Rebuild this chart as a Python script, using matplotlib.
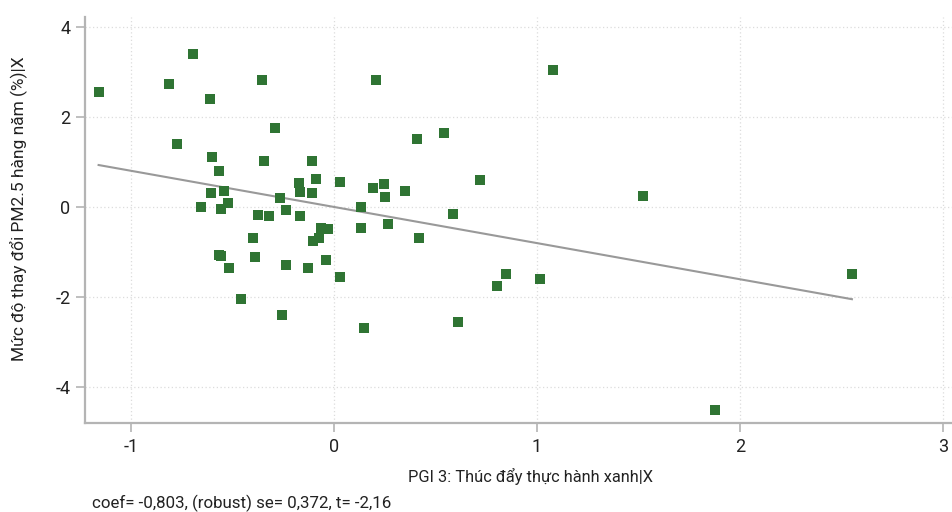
"""
Partial regression plot: PGI 3 vs. thay đổi PM2.5 hàng năm
"""
import matplotlib

matplotlib.use("Agg")
import matplotlib.pyplot as plt

plt.rcParams["font.family"] = ["Roboto", "DejaVu Sans"]

# ── dữ liệu ──
x_vals = [
    -1.160, -0.695, -0.813, -0.611, -0.355, 0.207, -0.291, -0.773, -0.601, -0.345,
    -0.108, -0.567, -0.172, -0.089, 0.030, 0.192, -0.606, -0.542, -0.167, -0.108,
    -0.266, -0.655, -0.522, -0.557, 0.133, -0.374, -0.320, -0.236, -0.167, -0.064,
    -0.030, 0.133, -0.399, -0.103, -0.074, -0.567, -0.557, -0.389, -0.236, -0.128,
    -0.039, -0.517, 0.030, -0.458, -0.256, 0.148, 1.079, 0.409, 0.542, 0.246,
    0.251, 0.350, 0.719, 0.586, 0.266, 0.419, 0.847, 0.803, 1.015, 0.611,
    1.522, 2.552, 1.877,
]
y_vals = [
    2.56, 3.39, 2.74, 2.39, 2.82, 2.83, 1.76, 1.39, 1.12, 1.01,
    1.01, 0.79, 0.54, 0.61, 0.56, 0.41, 0.32, 0.36, 0.34, 0.30,
    0.19, 0.01, 0.08, -0.04, 0.01, -0.18, -0.19, -0.06, -0.21, -0.46,
    -0.50, -0.46, -0.70, -0.75, -0.70, -1.06, -1.10, -1.12, -1.28, -1.35,
    -1.17, -1.35, -1.55, -2.04, -2.41, -2.70, 3.05, 1.50, 1.65, 0.52,
    0.23, 0.36, 0.59, -0.15, -0.37, -0.70, -1.50, -1.75, -1.61, -2.55,
    0.25, -1.48, -4.52,
]
coef = -0.803
x_ticks = [-1, 0, 1, 2, 3]
y_ticks = [-4, -2, 0, 2, 4]
x_label = "PGI 3: Thúc đẩy thực hành xanh|X"
y_label = "Mức độ thay đổi PM2.5 hàng năm (%)|X"
note = "coef= -0,803, (robust) se= 0,372, t= -2,16"

fig = plt.figure(figsize=(9.53, 5.12), dpi=100)
ax = fig.add_axes([0.0892, 0.1738, 0.9108, 0.793])

ax.grid(True, linestyle=(0, (1, 2)), color="#dcdcdc", linewidth=0.9, zorder=0)
ax.scatter(x_vals, y_vals, marker="s", s=44, color="#2f7433", linewidths=0, zorder=3)

# đường hồi quy (trung bình đã khử, chặn = 0)
xs = [min(x_vals), max(x_vals)]
ax.plot(xs, [coef * v for v in xs], color="#999999", linewidth=1.5, zorder=2)

ax.set_xlim(-1.227, 3.05)
ax.set_ylim(-4.8, 4.22)
ax.set_xticks(x_ticks)
ax.set_yticks(y_ticks)
ax.set_xticklabels([str(t) for t in x_ticks])
ax.set_yticklabels([str(t) for t in y_ticks])

for s in ["top", "right"]:
    ax.spines[s].set_visible(False)
for s in ["left", "bottom"]:
    ax.spines[s].set_color("#b4b4b4")
    ax.spines[s].set_linewidth(1.6)
ax.tick_params(colors="#b4b4b4", labelcolor="#222222", labelsize=13,
               length=6.5, width=1.2, pad=4)

ax.set_xlabel(x_label, fontsize=11.8, color="#222222", va="center")
ax.xaxis.set_label_coords(0.5127, -0.1305)
ax.set_ylabel(y_label, fontsize=12.5, color="#222222", va="center")
ax.yaxis.set_label_coords(-0.0766, 0.527)
fig.text(0.0965, 0.0176, note, fontsize=12.2, color="#222222", ha="left", va="center")

fig.savefig("out.png", dpi=100)
